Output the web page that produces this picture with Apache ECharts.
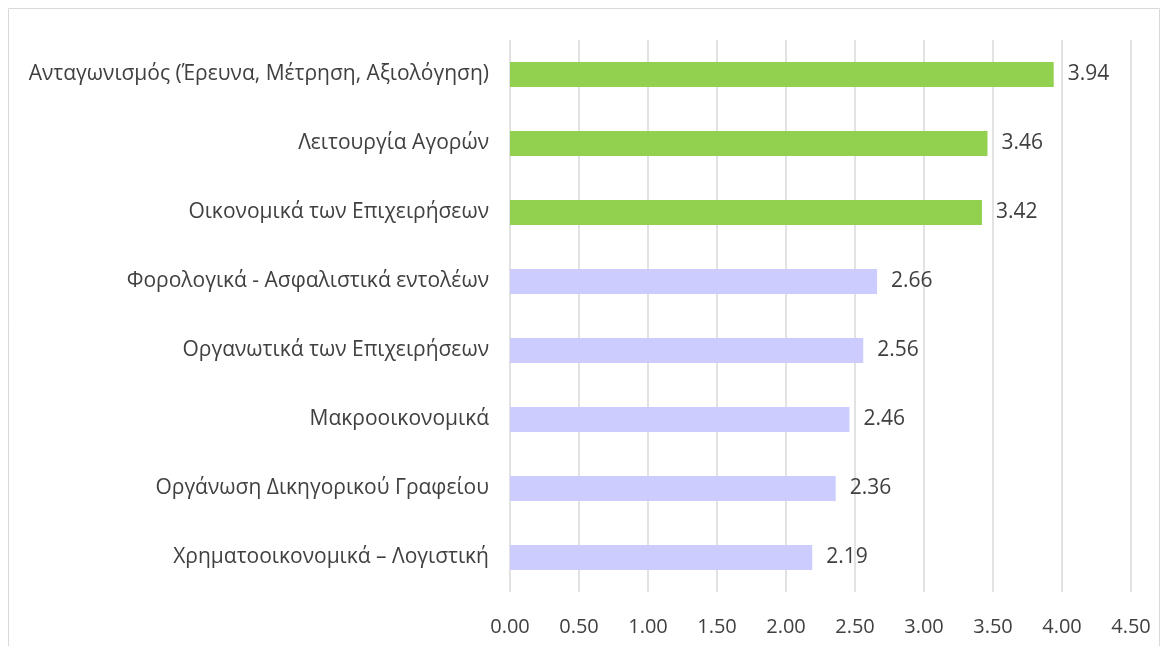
<!DOCTYPE html>
<html>
<head>
<meta charset="utf-8">
<script src="https://cdn.jsdelivr.net/npm/echarts@6/dist/echarts.min.js"></script>
<style>
  html, body { margin: 0; padding: 0; background: #ffffff; }
  #chart { width: 1169px; height: 646px; }
</style>
</head>
<body>
<div id="chart"></div>
<script>
var categories = [
  'Ανταγωνισμός (Έρευνα, Μέτρηση, Αξιολόγηση)',
  'Λειτουργία Αγορών',
  'Οικονομικά των Επιχειρήσεων',
  'Φορολογικά - Ασφαλιστικά εντολέων',
  'Οργανωτικά των Επιχειρήσεων',
  'Μακροοικονομικά',
  'Οργάνωση Δικηγορικού Γραφείου',
  'Χρηματοοικονομικά – Λογιστική'
];
var values = [3.94, 3.46, 3.42, 2.66, 2.56, 2.46, 2.36, 2.19];

var chart = echarts.init(document.getElementById('chart'));
var textColor = '#404040';
var font = 'Open Sans';

var option = {
  backgroundColor: '#ffffff',
  animation: false,
  graphic: [{
    type: 'rect',
    shape: { x: 8.5, y: 8.5, width: 1151, height: 660 },
    style: { fill: 'none', stroke: '#d9d9d9', lineWidth: 1 },
    silent: true
  }],
  grid: { left: 510, right: 38, top: 40, bottom: 54, containLabel: false },
  xAxis: {
    type: 'value',
    min: 0,
    max: 4.5,
    interval: 0.5,
    axisLine: { show: false },
    axisTick: { show: false },
    splitLine: { lineStyle: { color: '#d9d9d9', width: 1.5 } },
    axisLabel: {
      color: textColor,
      fontFamily: font,
      fontSize: 20,
      margin: 25,
      formatter: function (v) { return v.toFixed(2); }
    }
  },
  yAxis: {
    type: 'category',
    inverse: true,
    data: categories,
    axisLine: { show: false },
    axisTick: { show: false },
    axisLabel: {
      color: textColor,
      fontFamily: font,
      fontSize: 21,
      margin: 21
    }
  },
  series: [{
    type: 'bar',
    data: values,
    barWidth: 25,
    itemStyle: {
      color: function (p) { return p.value >= 3 ? '#92d050' : '#ccccff'; }
    },
    label: {
      show: true,
      position: 'right',
      distance: 14,
      color: textColor,
      fontFamily: font,
      fontSize: 21,
      formatter: function (p) { return p.value.toFixed(2); }
    }
  }]
};
chart.setOption(option);
</script>
</body>
</html>
